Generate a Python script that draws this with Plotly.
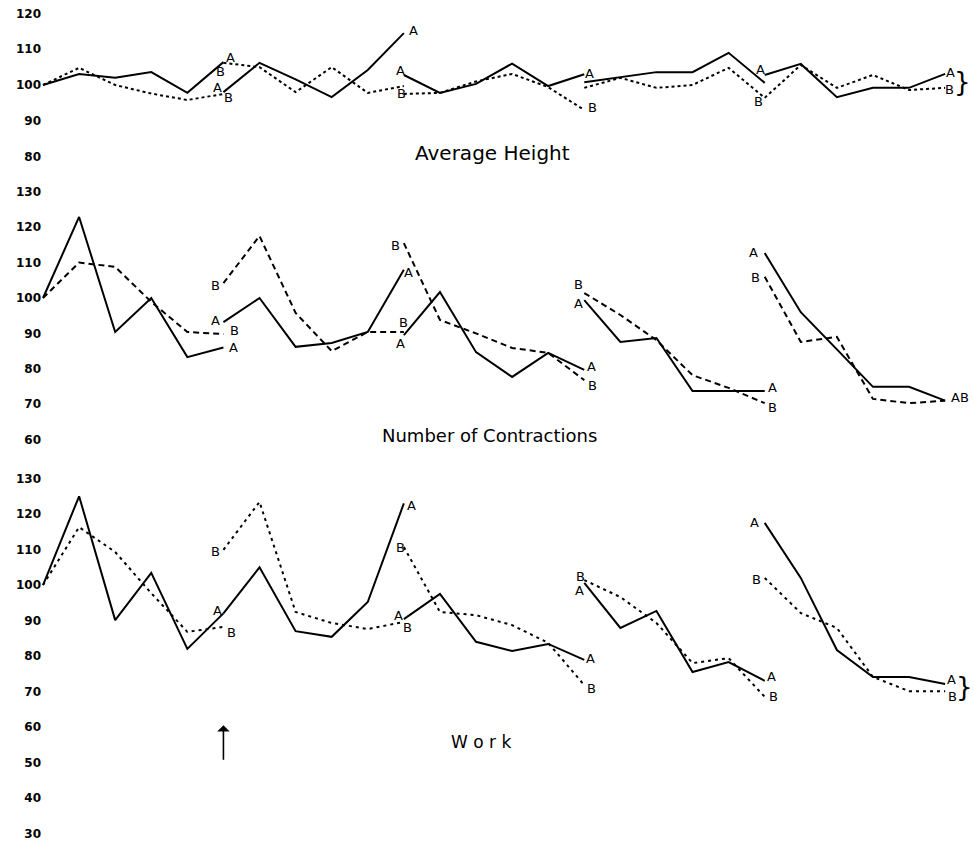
import plotly.graph_objects as go

# ---------------- data ----------------
# x = period index 0..25; each panel has 5 segments of 6 points (shared break points)
SEG_LEN = 5

height_A = [[100, 103.1, 102, 103.6, 97.8, 106.4],
            [98, 106.2, 101.6, 96.6, 104.2, 114.5],
            [102.8, 97.8, 100.3, 106, 99.7, 103],
            [100.8, 102.2, 103.6, 103.6, 109, 100.6],
            [102.8, 105.9, 96.6, 99.2, 99.2, 103.1]]
height_B = [[100, 104.8, 100, 97.6, 95.8, 97.5],
            [106.2, 105, 98, 105, 97.8, 99.7],
            [97.5, 97.8, 101, 103.1, 99.4, 93],
            [99.2, 102, 99.2, 100, 104.8, 96.4],
            [96.4, 105.6, 99.2, 102.8, 98.6, 99.2]]

contr_A = [[100, 122.9, 90.4, 100, 83.3, 86],
           [93.2, 100, 86.2, 87.3, 90.4, 108],
           [89.5, 101.7, 84.7, 77.7, 84.5, 79.7],
           [99.4, 87.6, 88.7, 73.7, 73.7, 73.7],
           [112.7, 96, 85.5, 74.9, 74.9, 71]]
contr_B = [[100, 110, 108.8, 98.9, 90.4, 89.8],
           [104.2, 117.5, 95.8, 85, 90.4, 90.4],
           [115.5, 93.8, 90, 85.9, 84.5, 76.8],
           [101.4, 95.2, 88.1, 78.2, 74.6, 70.3],
           [106, 87.6, 89, 71.5, 70.3, 71]]

work_A = [[100, 125, 90.1, 103.4, 82, 92],
          [92, 105, 87, 85.4, 95.2, 123],
          [90.4, 97.5, 84, 81.4, 83.4, 78.9],
          [100.6, 87.9, 92.7, 75.5, 78.3, 73],
          [117.5, 102, 81.7, 74.1, 74.1, 72.1]]
work_B = [[100, 116.3, 109.3, 97.7, 86.8, 88.2],
          [109.9, 123.4, 92.4, 89.3, 87.6, 89.6],
          [110.7, 92.4, 91.5, 88.7, 83.7, 71.8],
          [101.4, 96.6, 89.3, 78, 79.4, 68.5],
          [102, 92.1, 87.9, 74.1, 70.1, 70.1]]

titles = ["Average Height", "Number of Contractions", "W o r k"]
ticks_top = [80, 90, 100, 110, 120]
ticks_mid = [60, 70, 80, 90, 100, 110, 120, 130]
ticks_bot = [30, 40, 50, 60, 70, 80, 90, 100, 110, 120, 130]
arrow_period = 5

# ---------------- helpers ----------------
def flat(segs):
    xs, ys = [], []
    for k, s in enumerate(segs):
        xs += [k * SEG_LEN + i for i in range(len(s))] + [None]
        ys += list(s) + [None]
    return xs, ys

fig = go.Figure()
panels = [("y", height_A, height_B, "3px,3px"),
          ("y2", contr_A, contr_B, "6px,4px"),
          ("y3", work_A, work_B, "3px,4px")]
for ax, A, B, dash in panels:
    xa, ya = flat(A)
    xb, yb = flat(B)
    fig.add_trace(go.Scatter(x=xa, y=ya, yaxis=ax, mode="lines",
                             line=dict(color="black", width=2), cliponaxis=False,
                             showlegend=False, hoverinfo="skip"))
    fig.add_trace(go.Scatter(x=xb, y=yb, yaxis=ax, mode="lines",
                             line=dict(color="black", width=2, dash=dash), cliponaxis=False,
                             showlegend=False, hoverinfo="skip"))

ann = []
def lab(ax, segs, seg, pos, text, dx, dy, size=13):
    ann.append(dict(x=seg * SEG_LEN + pos, y=segs[seg][pos], xref="x", yref=ax,
                    text=text, showarrow=False, xshift=dx, yshift=dy,
                    xanchor="center", yanchor="middle",
                    font=dict(size=size, color="black", family="DejaVu Sans")))

# top panel labels
lab("y", height_A, 0, 5, "A", 7, 5)
lab("y", height_B, 1, 0, "B", -3, -9)
lab("y", height_A, 1, 0, "A", -6, 5)
lab("y", height_B, 0, 5, "B", 5, -4)
lab("y", height_A, 1, 5, "A", 10, 3)
lab("y", height_A, 2, 0, "A", -3, 4)
lab("y", height_B, 2, 0, "B", -2, 0)
lab("y", height_A, 2, 5, "A", 5, 1)
lab("y", height_B, 2, 5, "B", 8, 3)
lab("y", height_A, 4, 0, "A", -4, 5)
lab("y", height_B, 3, 5, "B", -6, -4)
lab("y", height_A, 4, 5, "A", 5, 1)
lab("y", height_B, 4, 5, "B", 4, -2)
lab("y", height_A, 4, 5, "}", 17, -8, 26)

# middle panel labels
lab("y2", contr_A, 0, 5, "A", 10, 0)
lab("y2", contr_B, 0, 5, "B", 11, 4)
lab("y2", contr_A, 1, 0, "A", -8, 2)
lab("y2", contr_B, 1, 0, "B", -8, -2)
lab("y2", contr_A, 1, 5, "A", 5, -3)
lab("y2", contr_B, 1, 5, "B", 0, 9)
lab("y2", contr_A, 2, 0, "A", -3, -8)
lab("y2", contr_B, 2, 0, "B", -8, -2)
lab("y2", contr_A, 2, 5, "A", 7, 3)
lab("y2", contr_B, 2, 5, "B", 8, -5)
lab("y2", contr_B, 3, 0, "B", -6, 9)
lab("y2", contr_A, 3, 0, "A", -6, -3)
lab("y2", contr_A, 3, 5, "A", 8, 4)
lab("y2", contr_B, 3, 5, "B", 8, -4)
lab("y2", contr_A, 4, 0, "A", -11, 1)
lab("y2", contr_B, 4, 0, "B", -9, -1)
lab("y2", contr_A, 4, 5, "AB", 15, 3)

# bottom panel labels
lab("y3", work_A, 1, 0, "A", -6, 3)
lab("y3", work_B, 0, 5, "B", 8, -6)
lab("y3", work_B, 1, 0, "B", -8, -2)
lab("y3", work_A, 1, 5, "A", 8, -2)
lab("y3", work_B, 2, 0, "B", -3, 0)
lab("y3", work_A, 2, 0, "A", -5, 4)
lab("y3", work_B, 1, 5, "B", 4, -6)
lab("y3", work_A, 2, 5, "A", 6, 1)
lab("y3", work_B, 2, 5, "B", 7, -3)
lab("y3", work_B, 3, 0, "B", -4, 4)
lab("y3", work_A, 3, 0, "A", -5, -8)
lab("y3", work_A, 3, 5, "A", 7, 4)
lab("y3", work_B, 3, 5, "B", 9, 0)
lab("y3", work_A, 4, 0, "A", -10, 0)
lab("y3", work_B, 4, 0, "B", -8, -2)
lab("y3", work_A, 4, 5, "A", 6, 5)
lab("y3", work_B, 4, 5, "B", 7, -5)
lab("y3", work_A, 4, 5, "}", 19, -3, 26)

W, H = 974, 842

def px_x(p):
    return p / W

def px_y(p):
    return 1 - p / H

# panel titles
title_pos = [(492, 153, 20), (490, 436, 18), (481, 742, 17)]
for t, (px, py, fs) in zip(titles, title_pos):
    ann.append(dict(x=px_x(px), y=px_y(py), xref="paper", yref="paper", text=t,
                    xanchor="center", yanchor="middle",
                    showarrow=False, font=dict(size=fs, color="black", family="DejaVu Sans")))

# arrow marking the change
ann.append(dict(x=arrow_period, y=60.5, xref="x", yref="y3", ax=0, ay=36,
                text="", showarrow=True, arrowhead=1, arrowsize=1.3, arrowwidth=1.6,
                arrowcolor="black"))

fig.update_layout(annotations=ann)

yax_common = dict(showgrid=False, zeroline=False, showline=False, ticks="",
                  automargin=False, anchor="x",
                  tickfont=dict(size=12, color="black", family="DejaVu Sans", weight="bold"))

fig.update_layout(
    width=W, height=H, autosize=False,
    margin=dict(l=0, r=0, t=0, b=0),
    paper_bgcolor="white", plot_bgcolor="white",
    xaxis=dict(domain=[px_x(42), 1], range=[-0.028, 25.80], visible=False, anchor="y3"),
    yaxis=dict(domain=[px_y(165), px_y(5)], range=[77.62, 122.38], tickvals=ticks_top, **yax_common),
    yaxis2=dict(domain=[px_y(447), px_y(182)], range=[57.91, 132.77], tickvals=ticks_mid, **yax_common),
    yaxis3=dict(domain=[px_y(840), px_y(468)], range=[28.17, 132.96], tickvals=ticks_bot, **yax_common),
)

fig.write_html("out.html", config={"displayModeBar": False},
               post_script="document.body.style.margin='0';document.body.style.overflow='hidden';")
